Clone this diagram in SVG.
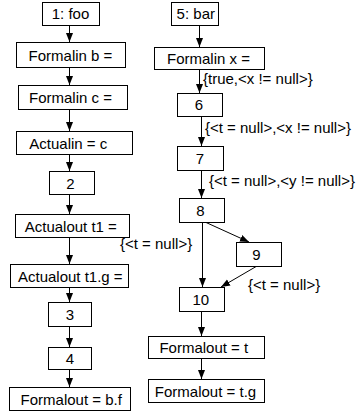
<svg xmlns="http://www.w3.org/2000/svg" width="359" height="412" viewBox="0 0 359 412">
<style>
  rect { fill: #ffffff; stroke: #000000; stroke-width: 1; }
  text { font-family: "Liberation Sans", Arial, sans-serif; font-size: 15px; fill: #000000; }
  .n text { text-anchor: middle; }
  .e line { stroke: #000000; stroke-width: 1; marker-end: url(#ah); }
</style>
<defs>
  <marker id="ah" markerUnits="userSpaceOnUse" markerWidth="9" markerHeight="8" refX="9" refY="3.5" orient="auto">
    <path d="M0,0 L9,3.5 L0,7 z" fill="#000000"/>
  </marker>
</defs>
<rect x="0" y="0" width="359" height="412" style="stroke:none;fill:#ffffff"/>
<g class="e" id="edges">
  <line x1="69.5" y1="25" x2="69.5" y2="42"/>
  <line x1="69.5" y1="67" x2="69.5" y2="85"/>
  <line x1="69.5" y1="109" x2="69.5" y2="131"/>
  <line x1="69.5" y1="154" x2="69.5" y2="171"/>
  <line x1="69.5" y1="194" x2="69.5" y2="214"/>
  <line x1="69.5" y1="237" x2="69.5" y2="264"/>
  <line x1="69.5" y1="287" x2="69.5" y2="302"/>
  <line x1="69.5" y1="326" x2="69.5" y2="347"/>
  <line x1="69.5" y1="369" x2="69.5" y2="387"/>
  <line x1="199.5" y1="25" x2="199.5" y2="47"/>
  <line x1="199.5" y1="69" x2="199.5" y2="93"/>
  <line x1="201.5" y1="116" x2="201.5" y2="146"/>
  <line x1="201.5" y1="170" x2="201.5" y2="198"/>
  <line x1="202.5" y1="222" x2="202.5" y2="287"/>
  <line x1="205" y1="222" x2="249" y2="242"/>
  <line x1="257" y1="266" x2="221" y2="287"/>
  <line x1="201.5" y1="311" x2="201.5" y2="336"/>
  <line x1="201.5" y1="358" x2="201.5" y2="379"/>
  <text x="203" y="84">{true,&lt;x != null&gt;}</text>
  <text x="205" y="133">{&lt;t = null&gt;,&lt;x != null&gt;}</text>
  <text x="209" y="186">{&lt;t = null&gt;,&lt;y != null&gt;}</text>
  <text x="120" y="249">{&lt;t = null&gt;}</text>
  <text x="248" y="290">{&lt;t = null&gt;}</text>
</g>
<g class="n" id="n1"><rect x="42.5" y="2.5" width="57" height="23"/><text x="70.5" y="19">1: foo</text></g>
<g class="n" id="nFb"><rect x="16.5" y="42.5" width="109" height="25"/><text x="70.5" y="60.5">Formalin b =</text></g>
<g class="n" id="nFc"><rect x="18.5" y="85.5" width="109" height="24"/><text x="70.5" y="103">Formalin c =</text></g>
<g class="n" id="nAi"><rect x="16.5" y="131.5" width="116" height="23"/><text x="68.3" y="148.5">Actualin = c</text></g>
<g class="n" id="n2"><rect x="49.5" y="171.5" width="45" height="23"/><text x="70.5" y="188.5">2</text></g>
<g class="n" id="nAo"><rect x="15.5" y="214.5" width="114" height="23"/><text x="70.8" y="231.5">Actualout t1 =</text></g>
<g class="n" id="nAog"><rect x="10.5" y="264.5" width="118" height="23"/><text x="70.3" y="281.5">Actualout t1.g =</text></g>
<g class="n" id="n3"><rect x="48.5" y="302.5" width="43" height="24"/><text x="69.8" y="320">3</text></g>
<g class="n" id="n4"><rect x="48.5" y="347.5" width="43" height="22"/><text x="70" y="364">4</text></g>
<g class="n" id="nFo"><rect x="9.5" y="387.5" width="121" height="23"/><text x="71.2" y="404.5">Formalout = b.f</text></g>
<g class="n" id="n5"><rect x="171.5" y="2.5" width="47" height="23"/><text x="195.8" y="19">5: bar</text></g>
<g class="n" id="nFx"><rect x="154.5" y="47.5" width="110" height="22"/><text x="208.5" y="64">Formalin x =</text></g>
<g class="n" id="n6"><rect x="177.5" y="93.5" width="45" height="23"/><text x="199" y="110">6</text></g>
<g class="n" id="n7"><rect x="177.5" y="146.5" width="46" height="24"/><text x="200" y="164">7</text></g>
<g class="n" id="n8"><rect x="179.5" y="198.5" width="45" height="24"/><text x="200.5" y="216">8</text></g>
<g class="n" id="n9"><rect x="236.5" y="242.5" width="45" height="24"/><text x="256.5" y="260">9</text></g>
<g class="n" id="n10"><rect x="179.5" y="287.5" width="45" height="24"/><text x="200.8" y="305">10</text></g>
<g class="n" id="nFt"><rect x="148.5" y="336.5" width="116" height="22"/><text x="203.8" y="353">Formalout = t</text></g>
<g class="n" id="nFtg"><rect x="148.5" y="379.5" width="116" height="23"/><text x="205.5" y="396.5">Formalout = t.g</text></g>
</svg>
